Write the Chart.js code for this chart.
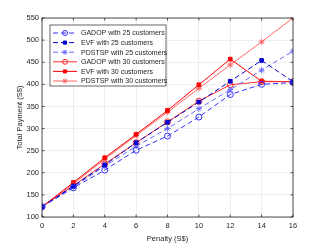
<!DOCTYPE html>
<html>
<head>
<meta charset="utf-8">
<script src="https://cdn.jsdelivr.net/npm/chart.js@4"></script>
<style>
  html, body { margin: 0; padding: 0; background: #fff; }
  #wrap { width: 324px; height: 243px; }
</style>
</head>
<body>
<div id="wrap"><canvas id="chart"></canvas></div>
<script>
// penalty values (x) and total payment per method
var penalty = [0, 2, 4, 6, 8, 10, 12, 14, 16];
var gadop25 = [123, 166, 206, 251, 283, 326, 377, 400, 404];
var evf25 = [123, 170, 218, 268, 314, 360, 407, 454, 406];
var pdstsp25 = [123, 168, 215, 260, 300, 345, 388, 432, 475];
var gadop30 = [123, 171, 220, 268, 315, 362, 399, 406, 406];
var evf30 = [123, 178, 234, 287, 341, 399, 457, 407, 406];
var pdstsp30 = [123, 175, 231, 284, 337, 391, 444, 496, 550];

var names = ['GADOP with 25 customers', 'EVF with 25 customers', 'PDSTSP with 25 customers',
             'GADOP with 30 customers', 'EVF with 30 customers', 'PDSTSP with 30 customers'];
var xTicks = [0, 2, 4, 6, 8, 10, 12, 14, 16];
var yTicks = [100, 150, 200, 250, 300, 350, 400, 450, 500, 550];

var FONT = 'Liberation Sans, Arial, sans-serif';

function pts(ys) {
    return penalty.map(function(x, i) { return {x: x, y: ys[i]}; });
}

function series(label, ys, color, style, dashed) {
    return {
        label: label,
        data: pts(ys),
        borderColor: color,
        backgroundColor: style == 'circle' ? 'rgba(0,0,0,0)' : color,
        borderWidth: 1,
        borderDash: dashed ? [5, 3] : [],
        pointStyle: style,
        pointRadius: style == 'rect' ? 2.6 : 3,
        pointBorderWidth: 1,
        pointBorderColor: color,
        pointBackgroundColor: style == 'circle' ? 'rgba(0,0,0,0)' : color,
        fill: false,
        tension: 0
    };
}

// frame, inner ticks and legend drawn like the matlab figure
var framePlugin = {
    id: 'frame',
    afterDraw: function(chart) {
        var c = chart.ctx, a = chart.chartArea;
        var xs = chart.scales.x, ys = chart.scales.y;
        c.save();
        c.strokeStyle = '#262626';
        c.lineWidth = 0.8;
        c.strokeRect(a.left, a.top, a.right - a.left, a.bottom - a.top);
        c.beginPath();
        xTicks.forEach(function(v) {
            var p = xs.getPixelForValue(v);
            c.moveTo(p, a.bottom); c.lineTo(p, a.bottom - 2.5);
            c.moveTo(p, a.top); c.lineTo(p, a.top + 2.5);
        });
        yTicks.forEach(function(v) {
            var p = ys.getPixelForValue(v);
            c.moveTo(a.left, p); c.lineTo(a.left + 2.5, p);
            c.moveTo(a.right, p); c.lineTo(a.right - 2.5, p);
        });
        c.stroke();

        // legend box
        var lx = a.left + 8, ly = a.top + 7, lw = 116, lh = 61;
        c.fillStyle = '#fff';
        c.fillRect(lx, ly, lw, lh);
        c.strokeStyle = '#262626';
        c.lineWidth = 0.7;
        c.strokeRect(lx, ly, lw, lh);
        c.font = '7px ' + FONT;
        c.textBaseline = 'middle';
        chart.data.datasets.forEach(function(ds, i) {
            var yy = ly + 8 + i * 9.6;
            c.strokeStyle = ds.borderColor;
            c.lineWidth = 1;
            c.setLineDash(ds.borderDash);
            c.beginPath();
            c.moveTo(lx + 3, yy); c.lineTo(lx + 27, yy);
            c.stroke();
            c.setLineDash([]);
            c.fillStyle = ds.pointBackgroundColor;
            c.strokeStyle = ds.borderColor;
            Chart.helpers.drawPoint(c, {
                pointStyle: ds.pointStyle,
                radius: ds.pointStyle == 'rect' ? 2.2 : 2.5,
                rotation: 0,
                borderWidth: 1
            }, lx + 15, yy);
            c.fillStyle = '#262626';
            c.fillText(ds.label, lx + 31, yy + 0.5);
        });
        c.restore();
    }
};

var ctx = document.getElementById('chart');
var chart = new Chart(ctx, {
    type: 'line',
    data: {
        datasets: [
            series(names[0], gadop25, '#3030ff', 'circle', true),
            series(names[1], evf25, '#0000cc', 'rect', true),
            series(names[2], pdstsp25, '#6a6aff', 'star', true),
            series(names[3], gadop30, '#ff3030', 'circle', false),
            series(names[4], evf30, '#ff0000', 'rect', false),
            series(names[5], pdstsp30, '#ff6666', 'star', false)
        ]
    },
    options: {
        responsive: true,
        maintainAspectRatio: false,
        animation: false,
        layout: { padding: { left: 0, right: 31, top: 18, bottom: 0 } },
        plugins: {
            legend: { display: false },
            tooltip: { enabled: false }
        },
        scales: {
            x: {
                type: 'linear',
                min: 0,
                max: 16,
                afterBuildTicks: function(s) { s.ticks = xTicks.map(function(v) { return {value: v}; }); },
                afterFit: function(s) { s.height = 26; },
                grid: { color: '#e6e6e6', lineWidth: 0.7, drawTicks: false },
                border: { display: false },
                ticks: { padding: 4, font: { family: FONT, size: 7.5 }, color: '#262626', maxRotation: 0 },
                title: { display: true, text: 'Penalty (S$)', padding: { top: 0, bottom: 0 },
                         font: { family: FONT, size: 7.5 }, color: '#262626' }
            },
            y: {
                min: 100,
                max: 550,
                afterBuildTicks: function(s) { s.ticks = yTicks.map(function(v) { return {value: v}; }); },
                afterFit: function(s) { s.width = 42; },
                grid: { color: '#e6e6e6', lineWidth: 0.7, drawTicks: false },
                border: { display: false },
                ticks: { padding: 3, font: { family: FONT, size: 7.5 }, color: '#262626' },
                title: { display: true, text: 'Total Payment (S$)', padding: { top: 15, bottom: 0 },
                         font: { family: FONT, size: 7.5 }, color: '#262626' }
            }
        }
    },
    plugins: [framePlugin]
});
</script>
</body>
</html>
